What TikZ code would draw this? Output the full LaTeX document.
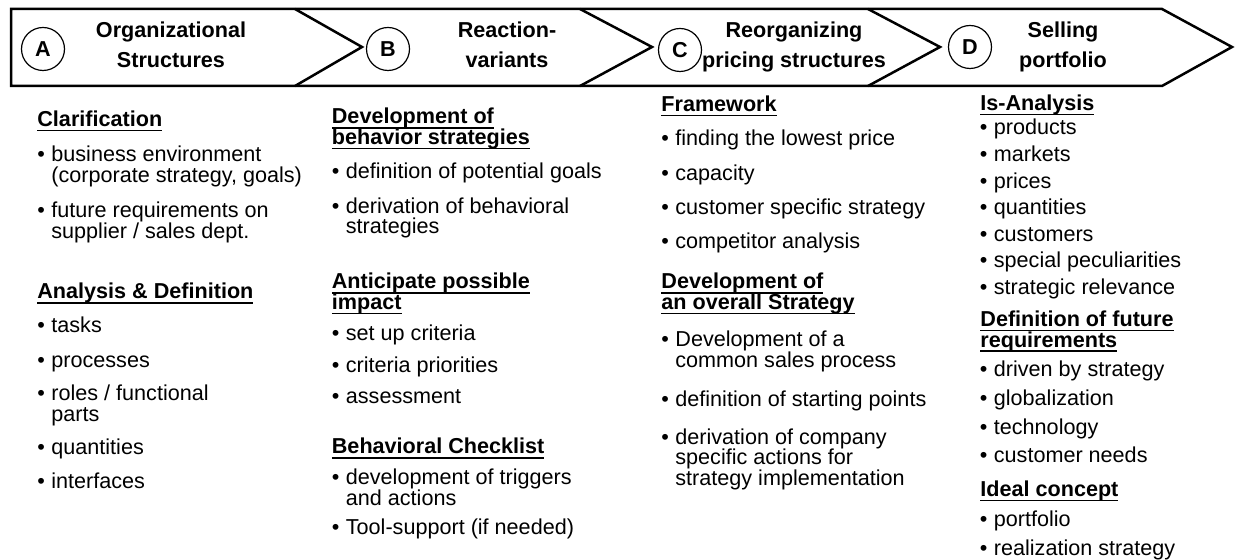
\documentclass[tikz,border=0pt]{standalone}
\usepackage{fontspec}
\setmainfont{Liberation Sans}
\newcommand\bodyfont{\fontsize{10.8pt}{10.3pt}\selectfont}
\newcommand\stagefont{\fontsize{10.8pt}{15pt}\selectfont\bfseries}
\newcommand\ulbf[1]{\leavevmode\setbox0=\hbox{\bfseries#1}\rlap{\rule[-2.4pt]{\wd0}{0.85pt}}\box0}
\newcommand\txtlines[1]{\parbox[t]{170pt}{\raggedright#1}}
\newcommand\bulitem[1]{\txtlines{\leavevmode\llap{\makebox[7pt][l]{\textbullet}}#1}}
\newcommand\stagebox[1]{\parbox[t]{110pt}{\centering#1}}

\begin{document}
\begin{tikzpicture}[x=0.5pt,y=-0.5pt,
	chev/.style={line width=1.25pt,line join=miter},
	badge/.style={circle,draw,line width=0.6pt,minimum size=21.5pt,inner sep=0pt,font=\bodyfont\bfseries},
	stage/.style={anchor=base,inner sep=0pt,font=\stagefont},
	hdg/.style={anchor=base west,inner sep=0pt,font=\bodyfont},
	bul/.style={anchor=base west,inner sep=0pt,font=\bodyfont}]
	\useasboundingbox (0,0) rectangle (1236,560);

	% process bar
	\draw[chev] (11,9) -- (1162,9) -- (1232,47) -- (1162,86) -- (11,86) -- cycle;
	\foreach \a/\b in {295/362,580/652,868/940}
		\draw[chev] (\a,9) -- (\b,47) -- (\a,86);

	\node[badge] (la) at (43,49) {A};
	\node[badge] (lb) at (388,49) {B};
	\node[badge] (lc) at (680,50) {C};
	\node[badge] (ld) at (970,47) {D};

	\node[stage] (sa) at (171,37.5) {\stagebox{Organizational\\Structures}};
	\node[stage] (sb) at (507,37.5) {\stagebox{Reaction-\\variants}};
	\node[stage] (sc) at (794,37.5) {\stagebox{Reorganizing\\pricing structures}};
	\node[stage] (sd) at (1063,37.5) {\stagebox{Selling\\portfolio}};

	% column A
	\node[hdg] (clar) at (37,126.7) {\txtlines{\ulbf{Clarification}}};
	\node[bul] (clar1) at (51,162) {\bulitem{business environment\\(corporate strategy, goals)}};
	\node[bul] (clar2) at (51,218) {\bulitem{future requirements on\\supplier / sales dept.}};
	\node[hdg] (anadef) at (37,299) {\txtlines{\ulbf{Analysis \& Definition}}};
	\node[bul] (ana1) at (51,333) {\bulitem{tasks}};
	\node[bul] (ana2) at (51,367.5) {\bulitem{processes}};
	\node[bul] (ana3) at (51,401) {\bulitem{roles / functional\\parts}};
	\node[bul] (ana4) at (51,455) {\bulitem{quantities}};
	\node[bul] (ana5) at (51,489) {\bulitem{interfaces}};

	% column B
	\node[hdg] (dev) at (331.5,124) {\txtlines{\ulbf{Development of}\\\ulbf{behavior strategies}}};
	\node[bul] (dev1) at (345.5,178.3) {\bulitem{definition of potential goals}};
	\node[bul] (dev2) at (345.5,213.3) {\bulitem{derivation of behavioral\\strategies}};
	\node[hdg] (ant) at (331.5,289) {\txtlines{\ulbf{Anticipate possible}\\\ulbf{impact}}};
	\node[bul] (ant1) at (345.5,340.7) {\bulitem{set up criteria}};
	\node[bul] (ant2) at (345.5,372.7) {\bulitem{criteria priorities}};
	\node[bul] (ant3) at (345.5,404) {\bulitem{assessment}};
	\node[hdg] (chk) at (331.5,454) {\txtlines{\ulbf{Behavioral Checklist}}};
	\node[bul] (chk1) at (345.5,485) {\bulitem{development of triggers\\and actions}};
	\node[bul] (chk2) at (345.5,535) {\bulitem{Tool-support (if needed)}};

	% column C
	\node[hdg] (frm) at (661,111.5) {\txtlines{\ulbf{Framework}}};
	\node[bul] (frm1) at (675,145.7) {\bulitem{finding the lowest price}};
	\node[bul] (frm2) at (675,180.7) {\bulitem{capacity}};
	\node[bul] (frm3) at (675,215) {\bulitem{customer specific strategy}};
	\node[bul] (frm4) at (675,249) {\bulitem{competitor analysis}};
	\node[hdg] (ovr) at (661,289) {\txtlines{\ulbf{Development of}\\\ulbf{an overall Strategy}}};
	\node[bul] (ovr1) at (675,346.7) {\bulitem{Development of a\\common sales process}};
	\node[bul] (ovr2) at (675,406.7) {\bulitem{definition of starting points}};
	\node[bul] (ovr3) at (675,444.3) {\bulitem{derivation of company\\specific actions for\\strategy implementation}};

	% column D
	\node[hdg] (isa) at (980,110.5) {\txtlines{\ulbf{Is-Analysis}}};
	\foreach \t [count=\i from 0] in {products,markets,prices,quantities,customers,special peculiarities,strategic relevance}
		\node[bul] (isa\i) at (993.5,{135+26.55*\i}) {\bulitem{\t}};
	\node[hdg] (fut) at (980,326.7) {\txtlines{\ulbf{Definition of future}\\\ulbf{requirements}}};
	\foreach \t [count=\i from 0] in {driven by strategy,globalization,technology,customer needs}
		\node[bul] (fut\i) at (993.5,{376.7+28.7*\i}) {\bulitem{\t}};
	\node[hdg] (idl) at (980,496.7) {\txtlines{\ulbf{Ideal concept}}};
	\node[bul] (idl0) at (993.5,526) {\bulitem{portfolio}};
	\node[bul] (idl1) at (993.5,555) {\bulitem{realization strategy}};
\end{tikzpicture}
\end{document}
